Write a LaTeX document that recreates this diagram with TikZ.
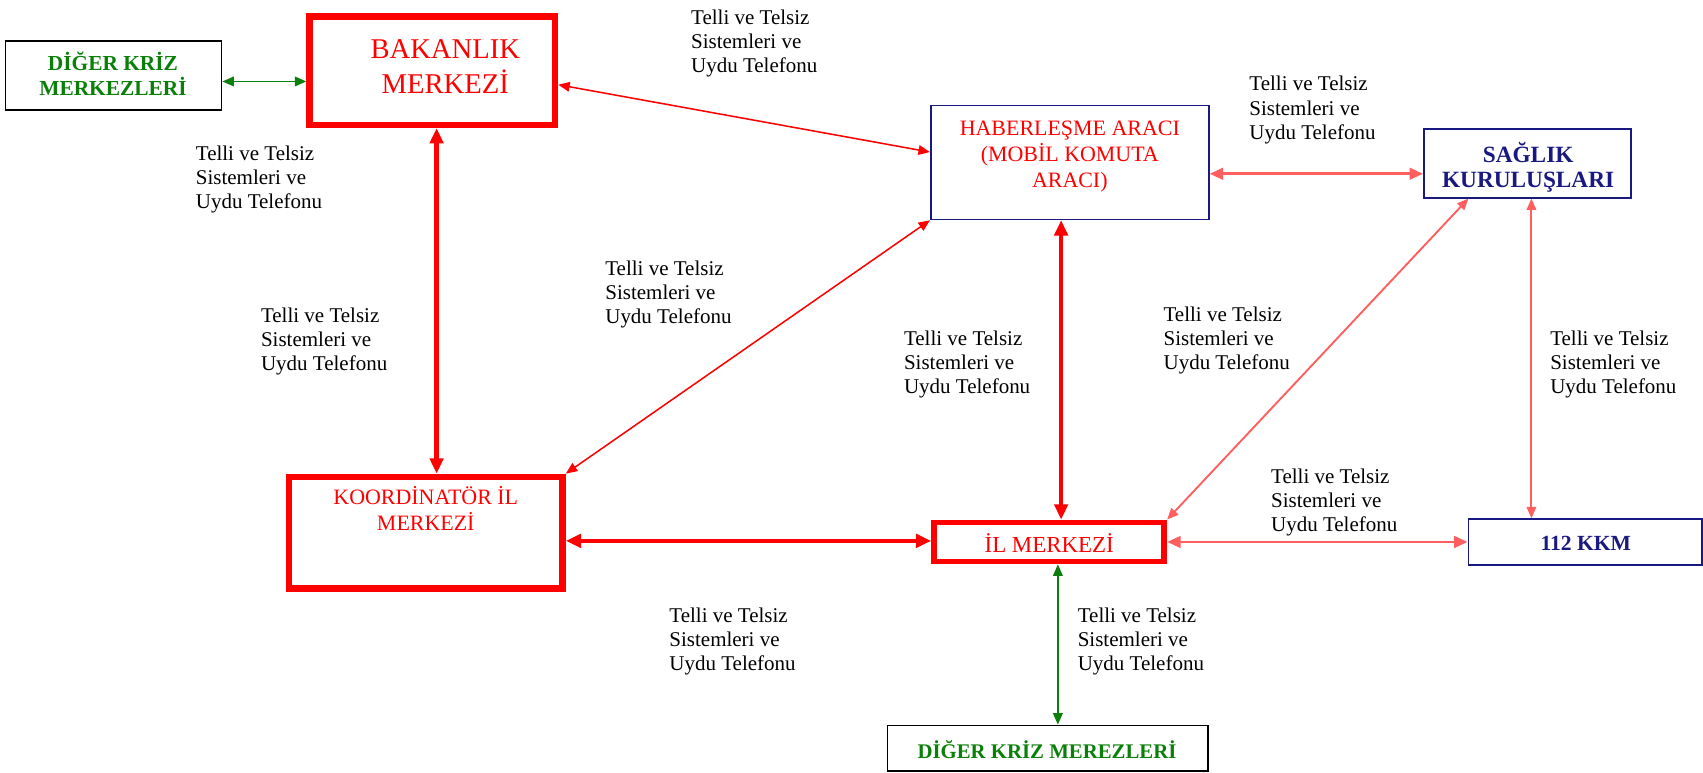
\documentclass[tikz,border=0pt]{standalone}
\usepackage{fontspec}
\setmainfont{Liberation Serif}
\usetikzlibrary{arrows.meta}
\definecolor{kred}{RGB}{255,0,0}
\definecolor{kpink}{RGB}{255,95,95}
\definecolor{knavy}{RGB}{25,25,130}
\definecolor{kgreen}{RGB}{10,128,10}
\begin{document}
\begin{tikzpicture}[x=0.02cm,y=-0.02cm,
  box/.style={draw, rectangle, inner sep=0pt},
  redbox/.style={box, draw=kred, line width=3.4pt},
  bluebox/.style={box, draw=knavy, line width=0.9pt},
  blackbox/.style={box, draw=black, line width=0.9pt},
  lbl/.style={anchor=north west, inner sep=0pt, align=left, font=\fontsize{11}{12.6}\selectfont},
  ttl/.style={align=center, inner sep=0pt},
  bigar/.style={{Triangle[length=8pt,width=7pt]}-{Triangle[length=8pt,width=7pt]}, line width=2.3pt, draw=kred},
  smar/.style={{Triangle[length=6pt,width=5pt]}-{Triangle[length=6pt,width=5pt]}, line width=0.8pt, draw=kred},
  pkar/.style={{Triangle[length=7pt,width=6pt]}-{Triangle[length=7pt,width=6pt]}, line width=1.5pt, draw=kpink},
  pkthin/.style={{Triangle[length=6pt,width=5pt]}-{Triangle[length=6pt,width=5pt]}, line width=1pt, draw=kpink},
  grar/.style={{Triangle[length=6pt,width=5pt]}-{Triangle[length=6pt,width=5pt]}, line width=0.9pt, draw=kgreen}]
\useasboundingbox (0,0) rectangle (1568,711);

% boxes
\node[blackbox, minimum width=3.98cm, minimum height=1.26cm] (dg1) at (104.5,69.5) {};
\node[redbox, minimum width=4.52cm, minimum height=2.0cm] (bak) at (398,65) {};
\node[bluebox, minimum width=5.12cm, minimum height=2.1cm] (hab) at (985,149.5) {};
\node[bluebox, minimum width=3.82cm, minimum height=1.26cm] (sag) at (1406.5,150.5) {};
\node[redbox, minimum width=5.04cm, minimum height=2.06cm] (koor) at (392,490.5) {};
\node[redbox, line width=3pt, minimum width=4.24cm, minimum height=0.72cm] (il) at (966,499) {};
\node[bluebox, minimum width=4.3cm, minimum height=0.84cm] (kkm) at (1459.5,499) {};
\node[blackbox, minimum width=5.9cm, minimum height=0.84cm] (dg2) at (964.5,689) {};

% titles
\node[ttl, text=kgreen, font=\fontsize{11.2}{13}\selectfont\bfseries] (dg1t) at (104,68) {DİĞER KRİZ\\MERKEZLERİ};
\node[ttl, text=kred, font=\fontsize{15}{18.2}\selectfont] (bakt) at (410,61) {BAKANLIK\\MERKEZİ};
\node[ttl, text=kred, font=\fontsize{11.5}{13.7}\selectfont] (habt) at (985,144) {HABERLEŞME ARACI\\(MOBİL KOMUTA\\ARACI)};
\node[ttl, text=knavy, font=\fontsize{12.2}{13}\selectfont\bfseries] (sagt) at (1407,154) {SAĞLIK\\KURULUŞLARI};
\node[ttl, text=kred, font=\fontsize{11.5}{13.7}\selectfont] (koort) at (392,468) {KOORDİNATÖR İL\\MERKEZİ};
\node[ttl, text=kred, font=\fontsize{12}{14}\selectfont] (ilt) at (966,500) {İL MERKEZİ};
\node[ttl, text=knavy, font=\fontsize{11.3}{13}\selectfont\bfseries] (kkmt) at (1460,500) {112 KKM};
\node[ttl, text=kgreen, font=\fontsize{10.9}{13}\selectfont\bfseries] (dg2t) at (964,690) {DİĞER KRİZ MEREZLERİ};

% connectors
\draw[grar] ([yshift=-0.11cm]dg1.east) -- ([yshift=-0.11cm]dg1.east -| bak.west);
\draw[smar] ([yshift=-0.26cm]bak.east) -- ([yshift=0.19cm]hab.west);
\draw[bigar] ([xshift=0.08cm]bak.south) -- ([xshift=0.08cm]bak.south |- koor.north);
\draw[smar] (hab.south west) -- (koor.north east);
\draw[bigar] ([xshift=-0.16cm]hab.south) -- ([xshift=-0.16cm]hab.south |- il.north);
\draw[pkar] ([yshift=-0.21cm]hab.east) -- ([yshift=-0.21cm]hab.east -| sag.west);
\draw[pkthin] ([xshift=-1.09cm]sag.south) -- (il.north east);
\draw[pkthin] ([xshift=0.07cm]sag.south) -- ([xshift=0.07cm]sag.south |- kkm.north);
\draw[bigar] ([yshift=-0.15cm]koor.east) -- ([yshift=-0.15cm]koor.east -| il.west);
\draw[pkar] (il.east) -- (kkm.west);
\draw[grar] ([xshift=0.16cm]il.south) -- ([xshift=0.16cm]il.south |- dg2.north);

% labels
\node[lbl] (l1) at (636,9) {Telli ve Telsiz\\Sistemleri ve\\Uydu Telefonu};
\node[lbl] (l2) at (180,134) {Telli ve Telsiz\\Sistemleri ve\\Uydu Telefonu};
\node[lbl] (l3) at (240,283) {Telli ve Telsiz\\Sistemleri ve\\Uydu Telefonu};
\node[lbl] (l4) at (557,240) {Telli ve Telsiz\\Sistemleri ve\\Uydu Telefonu};
\node[lbl] (l5) at (1150,70) {Telli ve Telsiz\\Sistemleri ve\\Uydu Telefonu};
\node[lbl] (l6) at (832,304) {Telli ve Telsiz\\Sistemleri ve\\Uydu Telefonu};
\node[lbl] (l7) at (1071,282) {Telli ve Telsiz\\Sistemleri ve\\Uydu Telefonu};
\node[lbl] (l8) at (1427,304) {Telli ve Telsiz\\Sistemleri ve\\Uydu Telefonu};
\node[lbl] (l9) at (1170,431) {Telli ve Telsiz\\Sistemleri ve\\Uydu Telefonu};
\node[lbl] (l10) at (616,559) {Telli ve Telsiz\\Sistemleri ve\\Uydu Telefonu};
\node[lbl] (l11) at (992,559) {Telli ve Telsiz\\Sistemleri ve\\Uydu Telefonu};
\end{tikzpicture}
\end{document}
